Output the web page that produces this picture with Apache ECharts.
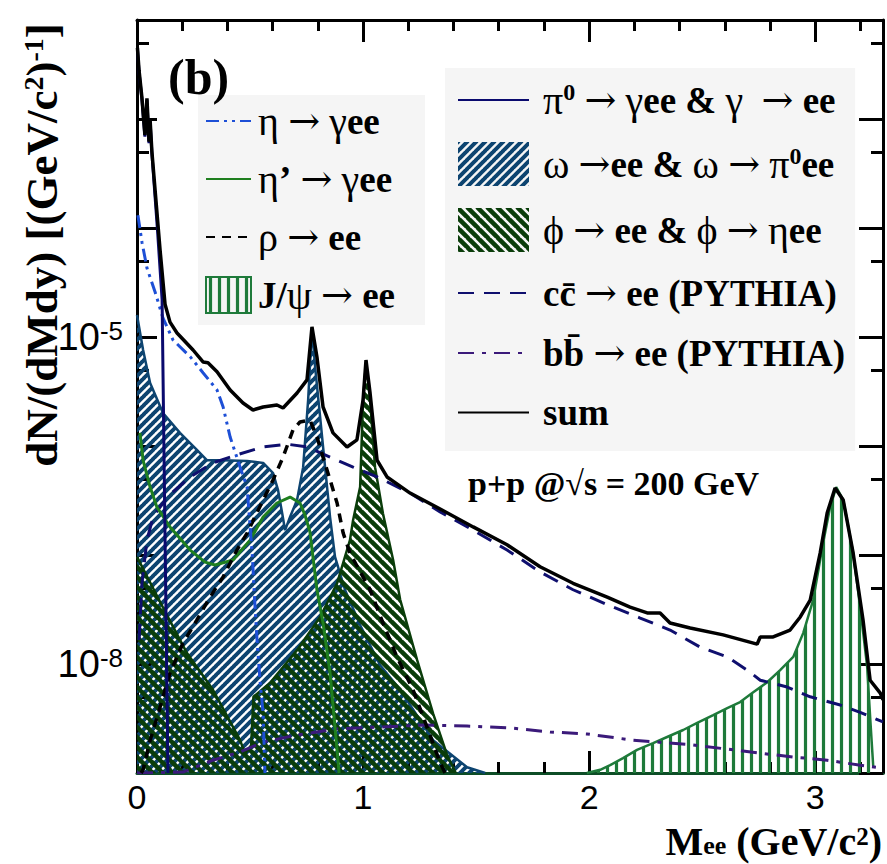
<!DOCTYPE html>
<html><head><meta charset="utf-8">
<script src="https://cdn.jsdelivr.net/npm/echarts@6/dist/echarts.min.js"></script>
<style>html,body{margin:0;padding:0;background:#fff}#c{width:887px;height:864px}</style>
</head><body><div id="c"></div>
<script>
// ---------------- data ----------------
const sumM = [0.002,0.009,0.022,0.035,0.044,0.053,0.058,0.066,0.102,0.124,0.146,0.177,0.248,0.292,0.314,0.354,0.412,0.469,0.513,0.558,0.619,0.646,0.708,0.752,0.774,0.796,0.823,0.867,0.929,0.973,1.0,1.013,1.031,1.062,1.106,1.208,1.341,1.487,1.637,1.783,1.929,2.080,2.181,2.257,2.314,2.358,2.447,2.593,2.743,2.757,2.814,2.889,2.934,2.978,3.022,3.053,3.088,3.124,3.168,3.212,3.243,3.288,3.30];
const sumV = [4.5e-3,2.8e-3,1.55e-3,7.1e-4,1.55e-3,6.2e-4,9.8e-4,5.0e-4,6.3e-5,2.0e-5,1.37e-5,1.09e-5,7.6e-6,5.9e-6,5.8e-6,4.8e-6,3.27e-6,2.48e-6,2.14e-6,2.28e-6,2.38e-6,2.23e-6,3.06e-6,4.04e-6,1.24e-5,6.56e-6,2.28e-6,1.32e-6,9.8e-7,1.14e-6,2.64e-6,6.15e-6,3.06e-6,7.4e-7,5.2e-7,3.7e-7,2.64e-7,1.81e-7,1.24e-7,7.8e-8,5.5e-8,4.1e-8,3.33e-8,2.94e-8,2.94e-8,2.38e-8,2.14e-8,1.85e-8,1.52e-8,1.77e-8,1.77e-8,2.05e-8,2.7e-8,3.86e-8,1.04e-7,2.43e-7,4.12e-7,3.2e-7,1.04e-7,2.5e-8,7.1e-9,5.4e-9,4.7e-9];

const pi0M = [0.002,0.009,0.022,0.035,0.044,0.053,0.058,0.066,0.09,0.111,0.137];
const pi0V = [4.4e-3,2.7e-3,1.5e-3,6.9e-4,1.5e-3,6.0e-4,9.5e-4,4.8e-4,1.0e-4,2.2e-5,1.0e-9];

const omegaM = [0.0,0.027,0.058,0.115,0.19,0.265,0.31,0.381,0.487,0.558,0.602,0.624,0.642,0.655,0.677,0.708,0.735,0.757,0.774,0.788,0.81,0.832,0.854,0.876,0.92,0.987,1.075,1.164,1.31,1.46,1.54];
const omegaV = [1.59e-5,7.6e-6,3.79e-6,2.01e-6,1.32e-6,9.2e-7,7.4e-7,7.4e-7,7.3e-7,7.0e-7,5.65e-7,3.94e-7,2.43e-7,1.69e-7,2.23e-7,3.2e-7,6.4e-7,2.64e-6,1.21e-5,5.3e-6,1.85e-6,6.4e-7,2.23e-7,9.6e-8,4.8e-8,2.28e-8,9.8e-9,5.8e-9,2.0e-9,1.13e-9,1.0e-9];

const phiM = [0.0,0.115,0.221,0.336,0.456,0.478,0.505,0.515,0.588,0.708,0.81,0.885,0.942,0.956,0.987,1.0,1.013,1.031,1.053,1.088,1.133,1.164,1.239,1.31,1.372,1.41];
const phiV = [9.6e-8,3.3e-8,1.26e-8,5.8e-9,2.0e-9,1.5e-9,1.8e-9,5.0e-9,6.7e-9,1.34e-8,2.7e-8,5.5e-8,1.37e-7,2.1e-7,4.2e-7,2.64e-6,5.8e-6,2.64e-6,6.4e-7,2.4e-7,9.0e-8,3.9e-8,1.09e-8,3.5e-9,1.46e-9,1.0e-9];

const jpsiM = [1.99,2.049,2.093,2.15,2.212,2.283,2.345,2.416,2.478,2.549,2.611,2.668,2.726,2.788,2.845,2.903,2.947,2.991,3.035,3.066,3.093,3.124,3.168,3.199,3.23,3.243,3.257];
const jpsiV = [1.0e-9,1.07e-9,1.18e-9,1.37e-9,1.63e-9,1.88e-9,2.14e-9,2.48e-9,2.88e-9,3.4e-9,3.94e-9,4.48e-9,5.5e-9,6.8e-9,8.8e-9,1.16e-8,1.92e-8,3.86e-8,1.29e-7,2.75e-7,4.2e-7,3.2e-7,1.04e-7,3.33e-8,9.4e-9,3.27e-9,1.13e-9];

const etaM = [0.004,0.022,0.044,0.08,0.115,0.159,0.235,0.292,0.354,0.381,0.412,0.456,0.487,0.51,0.52,0.531,0.544,0.558,0.566];
const etaV = [1.31e-4,7.4e-5,4.3e-5,2.59e-5,1.49e-5,9.4e-6,6.6e-6,4.7e-6,3.27e-6,2.28e-6,1.21e-6,6.4e-7,4.2e-7,1.0e-7,4.0e-8,1.66e-8,7.1e-9,3.5e-9,1.0e-9];

const etapM = [0.013,0.027,0.058,0.088,0.146,0.235,0.301,0.345,0.425,0.5,0.558,0.619,0.677,0.721,0.743,0.765,0.796,0.823,0.854,0.885,0.894];
const etapV = [1.32e-6,7.4e-7,4.2e-7,2.75e-7,1.81e-7,1.11e-7,8.6e-8,8.1e-8,9.0e-8,1.37e-7,2.23e-7,3.0e-7,3.4e-7,3.0e-7,2.33e-7,1.63e-7,4.8e-8,2.38e-8,8.3e-9,1.63e-9,1.0e-9];

const rhoM = [0.018,0.027,0.058,0.102,0.146,0.204,0.265,0.323,0.381,0.442,0.487,0.558,0.602,0.646,0.69,0.721,0.765,0.796,0.823,0.854,0.885,0.912,0.942,1.031,1.088,1.15,1.221,1.283,1.341,1.363];
const rhoV = [1.0e-9,1.07e-9,2.0e-9,4.0e-9,8.3e-9,1.56e-8,2.54e-8,4.1e-8,6.3e-8,1.11e-7,1.59e-7,3.2e-7,4.9e-7,7.9e-7,1.4e-6,1.66e-6,1.73e-6,1.21e-6,7.9e-7,4.9e-7,3.0e-7,1.59e-7,1.04e-7,4.8e-8,2.38e-8,1.16e-8,5.8e-9,2.64e-9,1.24e-9,1.0e-9];

const ccM = [0.009,0.022,0.044,0.071,0.133,0.235,0.336,0.442,0.558,0.664,0.752,0.854,0.956,1.062,1.208,1.341,1.487,1.637,1.783,1.929,2.08,2.226,2.358,2.491,2.611,2.699,2.757,2.876,2.978,3.111,3.199,3.30];
const ccV = [1.66e-8,5.5e-8,1.37e-7,2.23e-7,3.4e-7,5.2e-7,7.0e-7,8.3e-7,9.8e-7,1.04e-6,9.8e-7,7.9e-7,6.4e-7,5.2e-7,3.7e-7,2.48e-7,1.69e-7,1.11e-7,7.0e-8,4.8e-8,3.5e-8,2.64e-8,2.05e-8,1.43e-8,1.16e-8,8.8e-9,7.1e-9,6.15e-9,5.0e-9,4.2e-9,3.6e-9,2.94e-9];

const bbM = [0.0,0.204,0.336,0.456,0.558,0.708,0.885,1.075,1.265,1.46,1.65,1.827,1.991,2.195,2.46,2.637,2.903,3.053,3.199,3.30];
const bbV = [1.0e-9,1.02e-9,1.31e-9,1.56e-9,1.92e-9,2.23e-9,2.54e-9,2.64e-9,2.75e-9,2.7e-9,2.59e-9,2.38e-9,2.28e-9,2.0e-9,1.81e-9,1.63e-9,1.4e-9,1.31e-9,1.18e-9,1.11e-9];

const xTickLabels = ['0','1','2','3'];
const yLabelled = [-5, -8];
const yMinorTicks = [5e-9,5e-8,5e-7,5e-6,5e-5,5e-4,5e-3];

// ---------------- helpers ----------------
function pairs(m, v) { return m.map((x, i) => [x, v[i]]); }
function hatch(color, kind, s, lw) {
  const c = document.createElement('canvas');
  c.width = s; c.height = s;
  const g = c.getContext('2d');
  g.strokeStyle = color; g.lineWidth = lw;
  g.beginPath();
  if (kind === '/') {
    [0, s, 2 * s].forEach(k => { g.moveTo(k + 1, -1); g.lineTo(k - s - 1, s + 1); });
  } else if (kind === '\\') {
    [-s, 0, s].forEach(k => { g.moveTo(k - 1, -1); g.lineTo(k + s + 1, s + 1); });
  } else {
    g.moveTo(s / 2, -1); g.lineTo(s / 2, s + 1);
  }
  g.stroke();
  return { image: c, repeat: 'repeat' };
}
const C_OMEGA = '#0d4470', C_PHI = '#0a3d0a', C_JPSI = '#1e7a3a';
const omegaPat = hatch(C_OMEGA, '/', 9, 4);
const phiPat = hatch(C_PHI, '\\', 10, 4.5);
const jpsiPat = hatch(C_JPSI, '|', 9, 3.2);

const SERIF = 'Liberation Serif';
const SANS = 'Liberation Sans';

const legendText = {
  eta: '{g|η} {a|→} {g|γ}ee',
  etap: '{g|η}’ {a|→} {g|γ}ee',
  rho: '{g|ρ} {a|→} ee',
  jpsi: 'J/{g|ψ} {a|→} ee',
  pi0: '{g|π}{s|0} {a|→} {g|γ}ee & {g|γ}  {a|→} ee',
  omega: '{g|ω} {a|→}ee & {g|ω} {a|→} {g|π}{s|0}ee',
  phi: '{g|ϕ} {a|→} ee & {g|ϕ} {a|→} {g|η}ee',
  cc: 'cc\u0304 {a|→} ee (PYTHIA)',
  bb: 'bb\u0304 {a|→} ee (PYTHIA)',
  sum: 'sum'
};
function legendTextStyle(padLeft) {
  return {
    fontFamily: SERIF, fontWeight: 'bold', fontSize: 37, color: '#000', padding: [0, 0, 0, padLeft],
    rich: {
      s: { fontFamily: SERIF, fontWeight: 'bold', fontSize: 24, verticalAlign: 'top', lineHeight: 22 },
      g: { fontFamily: SERIF, fontWeight: 'normal', fontSize: 40 },
      a: { fontFamily: 'DejaVu Serif', fontWeight: 'normal', fontSize: 38 }
    }
  };
}

function lineSeries(name, m, v, color, width, type, z) {
  return { name, type: 'line', data: pairs(m, v), symbol: 'none', showSymbol: false,
    lineStyle: { color, width, type }, itemStyle: { color }, z, clip: true, animation: false };
}
function areaSeries(name, m, v, color, pat, z) {
  return { name, type: 'line', data: pairs(m, v), symbol: 'none', showSymbol: false,
    lineStyle: { color, width: 2.5 }, itemStyle: { color },
    areaStyle: { color: pat, opacity: 1, origin: 'start' }, z, clip: true, animation: false };
}

const series = [
  areaSeries('omega', omegaM, omegaV, C_OMEGA, omegaPat, 2),
  areaSeries('phi', phiM, phiV, C_PHI, phiPat, 3),
  areaSeries('jpsi', jpsiM, jpsiV, C_JPSI, jpsiPat, 3),
  lineSeries('bb', bbM, bbV, '#3b1a7a', 3, [16, 8, 4, 8], 4),
  lineSeries('cc', ccM, ccV, '#0f0f6e', 3, [16, 10], 4),
  lineSeries('etap', etapM, etapV, '#1f7f1f', 3, 'solid', 5),
  lineSeries('rho', rhoM, rhoV, '#000000', 3.5, [9, 7], 5),
  lineSeries('eta', etaM, etaV, '#1d4fd6', 3, [13, 5, 3, 5, 3, 5], 6),
  lineSeries('pi0', pi0M, pi0V, '#0a0a6e', 3, 'solid', 6),
  lineSeries('sum', sumM, sumV, '#000000', 3.5, 'solid', 7)
];

const yBase = { type: 'log', logBase: 10, min: 1e-9, max: 8.1e-3, splitLine: { show: false } };
const xBase = { type: 'value', min: 0, max: 3.3, splitLine: { show: false } };
const tickStyle = { color: '#000', width: 3 };

const option = {
  animation: false,
  backgroundColor: '#fff',
  grid: { left: 137, right: 4, top: 20, bottom: 91, containLabel: false },
  xAxis: [
    Object.assign({}, xBase, { position: 'bottom', interval: 1,
      axisLine: { show: true, onZero: false, lineStyle: { color: '#0d4d26', width: 3 } },
      axisTick: { show: true, inside: true, length: 22, lineStyle: tickStyle },
      axisLabel: { show: true, margin: 10, fontFamily: SANS, fontSize: 34, lineHeight: 28, color: '#000', showMaxLabel: false,
        formatter: v => { const i = Math.round(v); return Math.abs(v - i) < 1e-6 && xTickLabels[i] !== undefined ? xTickLabels[i] : ''; } } }),
    Object.assign({}, xBase, { position: 'bottom', interval: 0.2,
      axisLine: { show: false, onZero: false }, axisLabel: { show: false },
      axisTick: { show: true, inside: true, length: 11, lineStyle: tickStyle } }),
    Object.assign({}, xBase, { position: 'top', interval: 1,
      axisLine: { show: true, onZero: false, lineStyle: { color: '#000', width: 3 } }, axisLabel: { show: false },
      axisTick: { show: true, inside: true, length: 22, lineStyle: tickStyle } }),
    Object.assign({}, xBase, { position: 'top', interval: 0.2,
      axisLine: { show: false, onZero: false }, axisLabel: { show: false },
      axisTick: { show: true, inside: true, length: 11, lineStyle: tickStyle } })
  ],
  yAxis: [
    Object.assign({}, yBase, { position: 'left',
      axisLine: { show: true, onZero: false, lineStyle: { color: '#000', width: 3 } },
      axisTick: { show: true, inside: true, length: 20, lineStyle: tickStyle },
      axisLabel: { show: true, margin: 14, showMinLabel: false, showMaxLabel: false,
        formatter: v => { const l = Math.log10(v); const e = Math.round(l);
          return (Math.abs(l - e) < 1e-6 && yLabelled.indexOf(e) >= 0) ? '{n|10}{e|' + e + '}' : ''; },
        rich: { n: { fontFamily: SANS, fontSize: 38, color: '#000' },
                e: { fontFamily: SANS, fontSize: 26, color: '#000', verticalAlign: 'top', lineHeight: 26 } } } }),
    Object.assign({}, yBase, { position: 'left',
      axisLine: { show: false, onZero: false }, axisLabel: { show: false },
      axisTick: { show: true, inside: true, length: 12, customValues: yMinorTicks, lineStyle: tickStyle } }),
    Object.assign({}, yBase, { position: 'right',
      axisLine: { show: true, onZero: false, lineStyle: { color: '#000', width: 3 } }, axisLabel: { show: false },
      axisTick: { show: true, inside: true, length: 24, lineStyle: tickStyle } }),
    Object.assign({}, yBase, { position: 'right',
      axisLine: { show: false, onZero: false }, axisLabel: { show: false },
      axisTick: { show: true, inside: true, length: 12, customValues: yMinorTicks, lineStyle: tickStyle } })
  ],
  legend: [
    { orient: 'vertical', left: 198, top: 95, padding: [6, 30, 10, 7], itemGap: 18,
      itemWidth: 45, itemHeight: 36, backgroundColor: '#f5f5f5', selectedMode: false,
      itemStyle: { opacity: 0 },
      data: [ { name: 'eta' }, { name: 'etap' }, { name: 'rho' },
        { name: 'jpsi', icon: 'rect', itemStyle: { color: jpsiPat, opacity: 1, borderColor: C_JPSI, borderWidth: 2 } } ],
      formatter: n => legendText[n], textStyle: legendTextStyle(2) },
    { orient: 'vertical', left: 445, top: 68, padding: [12, 10, 20, 12], itemGap: 22,
      itemWidth: 71, itemHeight: 44, backgroundColor: '#f5f5f5', selectedMode: false,
      itemStyle: { opacity: 0 },
      data: [ { name: 'pi0' },
        { name: 'omega', icon: 'rect', itemStyle: { color: omegaPat, opacity: 1, borderColor: C_OMEGA, borderWidth: 0 } },
        { name: 'phi', icon: 'rect', itemStyle: { color: phiPat, opacity: 1, borderColor: C_PHI, borderWidth: 0 } },
        { name: 'cc' }, { name: 'bb' }, { name: 'sum' } ],
      formatter: n => legendText[n], textStyle: legendTextStyle(9) }
  ],
  graphic: [
    { type: 'text', left: 168, top: 52, z: 100,
      style: { text: '(b)', font: 'bold 50px "Liberation Serif"', fill: '#000' } },
    { type: 'text', left: 468, top: 466, z: 100,
      style: { text: 'p+p @√s = 200 GeV', font: 'bold 34px "Liberation Serif"', fill: '#000' } },
    { type: 'text', x: 42, y: 245, rotation: Math.PI / 2, z: 100,
      style: { text: '{b|dN/(dMdy) [(GeV/c}{s|2}{b|)}{s|-1}{b|]}', align: 'center', verticalAlign: 'middle',
        rich: { b: { fontFamily: SERIF, fontWeight: 'bold', fontSize: 45, fill: '#000' },
                s: { fontFamily: SERIF, fontWeight: 'bold', fontSize: 28, fill: '#000', verticalAlign: 'top', lineHeight: 28 } } } },
    { type: 'text', x: 882, y: 841, z: 100,
      style: { text: '{b|M}{u|ee}{b| (GeV/c}{s|2}{b|)}', align: 'right', verticalAlign: 'middle',
        rich: { b: { fontFamily: SERIF, fontWeight: 'bold', fontSize: 40, fill: '#000', lineHeight: 34 },
                u: { fontFamily: SERIF, fontWeight: 'bold', fontSize: 26, fill: '#000', verticalAlign: 'bottom', lineHeight: 22 },
                s: { fontFamily: SERIF, fontWeight: 'bold', fontSize: 25, fill: '#000', verticalAlign: 'top', lineHeight: 22 } } } }
  ],
  series
};
const chart = echarts.init(document.getElementById('c'), null, { renderer: 'svg', width: 887, height: 864 });
chart.setOption(option);
</script></body></html>
